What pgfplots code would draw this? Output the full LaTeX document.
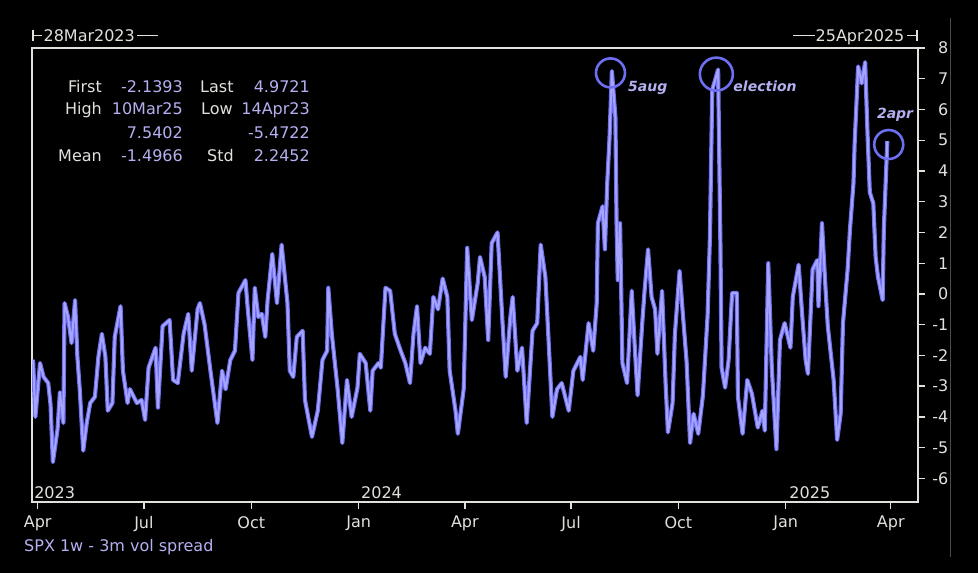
\documentclass[border=0pt]{standalone}
\usepackage{fontspec}
\setmainfont{DejaVu Sans}
\usepackage{pgfplots}
\usepackage{pgfplotstable}
\pgfplotsset{compat=1.18}
\definecolor{traceout}{RGB}{110,110,240}
\definecolor{tracein}{RGB}{165,165,255}
\definecolor{lav}{RGB}{180,176,240}
\definecolor{lbl}{RGB}{225,225,220}
\newcommand{\fs}{\fontsize{16bp}{19bp}\selectfont}
\newcommand{\fa}{\fontsize{14bp}{17bp}\selectfont\bfseries\itshape}

% day index: 0 = 1 Apr 2023
\pgfplotstableread{
d v
-4 -2.14
-2 -4.0
2 -2.25
5 -2.7
9 -2.9
11 -3.6
13 -5.47
17 -4.4
19 -3.2
22 -4.2
23 -0.3
26 -0.75
29 -1.6
32 -0.2
34 -2.05
36 -3.1
39 -5.1
42 -4.2
45 -3.55
49 -3.35
52 -2.05
55 -1.3
58 -2.05
60 -3.8
64 -3.55
66 -1.4
71 -0.4
73 -2.5
77 -3.55
79 -3.1
85 -3.55
89 -3.45
92 -4.1
95 -2.4
101 -1.75
103 -3.7
107 -1.05
113 -0.85
116 -2.8
120 -2.9
125 -1.3
129 -0.65
132 -2.5
137 -0.5
139 -0.3
143 -1.0
148 -2.5
154 -4.2
158 -2.5
161 -3.1
165 -2.15
169 -1.85
172 0.03
178 0.45
180 -0.5
184 -2.15
186 0.2
189 -0.75
192 -0.65
195 -1.4
197 -0.2
201 1.3
205 -0.3
209 1.6
214 -0.3
216 -2.5
219 -2.7
222 -1.4
227 -1.2
229 -3.45
235 -4.65
240 -3.8
244 -2.15
248 -1.85
249 0.2
252 -1.3
257 -3.1
261 -4.85
265 -2.8
269 -4.0
274 -3.05
276 -1.95
281 -2.25
285 -3.8
287 -2.5
292 -2.25
294 -2.4
298 0.2
302 0.1
306 -1.3
311 -1.85
315 -2.25
319 -2.9
322 -1.3
325 -0.4
328 -2.25
332 -1.75
336 -1.95
339 -0.1
343 -0.5
347 0.5
351 -0.1
353 -2.5
358 -3.8
360 -4.55
365 -3.1
368 1.5
372 -0.85
377 0.35
379 1.2
383 0.55
386 -1.5
389 1.65
394 2.0
398 -0.75
401 -2.7
405 -0.75
407 -0.1
411 -2.5
415 -1.75
419 -4.2
424 -1.2
428 -0.95
431 1.6
435 0.55
437 -0.95
441 -4.0
445 -3.1
449 -2.9
455 -3.8
459 -2.5
465 -2.05
467 -2.8
472 -0.95
476 -1.85
479 -0.3
480 2.3
484 2.85
486 1.45
488 3.6
490 5.1
492 7.25
495 5.75
496 2.3
497 0.45
499 2.3
501 -2.25
505 -2.9
509 0.1
512 -2.0
514 -3.3
518 -0.95
520 0.1
523 1.45
526 -0.1
529 -0.5
531 -1.95
535 0.1
538 -2.9
540 -4.5
544 -3.55
546 -1.3
550 0.75
553 -0.75
556 -2.2
559 -4.85
562 -3.9
566 -4.55
570 -3.3
574 -0.7
576 1.85
578 6.65
580 6.9
583 7.3
585 1.55
586 -2.4
589 -3.05
592 -2.15
595 0.03
599 0.03
600 -3.35
604 -4.55
608 -2.8
612 -3.25
617 -4.35
621 -3.8
623 -4.45
626 1.0
629 -2.4
633 -5.05
636 -1.5
640 -0.95
645 -1.75
647 -0.1
652 0.95
655 -0.65
658 -2.15
660 -2.6
664 0.8
668 1.1
669 -0.4
672 2.3
675 0.2
677 -1.05
682 -2.8
685 -4.75
688 -3.9
690 -0.95
694 0.8
696 2.1
699 3.6
700 4.9
703 7.4
706 6.85
709 7.54
711 5.25
713 3.3
716 2.95
718 1.2
720 0.55
724 -0.2
725 2.1
728 4.97
}\spread

\begin{document}
\begin{tikzpicture}[x=1bp,y=1bp]
\useasboundingbox (0,0) rectangle (978,-573);
\fill[black] (0,0) rectangle (978,-573);
\draw[black!70!white, line width=0.8bp] (950,-18) -- (950,-557);
\begin{axis}[
  at={(32bp,-48bp)}, anchor=north west,
  scale only axis, width=886bp, height=454bp,
  xmin=-4.9, xmax=754.3, ymin=-6.77, ymax=8,
  axis line style={lbl, line width=1.3bp},
  tick style={lbl, line width=1.3bp},
  major tick length=7bp, tick align=outside,
  xtick pos=bottom, ytick pos=right, yticklabel pos=right,
  xtick={0,91,183,275,366,457,549,641,731},
  xticklabels={Apr,Jul,Oct,Jan,Apr,Jul,Oct,Jan,Apr},
  ytick={-6,-5,-4,-3,-2,-1,0,1,2,3,4,5,6,7,8},
  yticklabels={-6,-5,-4,-3,-2,-1,0,1,2,3,4,5,6,7,8},
  ticklabel style={font=\fs, text=lbl},
  xticklabel style={anchor=north, inner sep=0pt, yshift=-7bp},
  yticklabel style={anchor=west, inner sep=0pt, text width=18bp, align=right, xshift=5bp},
  clip=true,
]
\addplot[traceout, line width=4.2bp, line join=round] table[x=d,y=v]{\spread};
\addplot[tracein, line width=2bp, line join=round] table[x=d,y=v]{\spread};
\addplot[only marks, mark=o, mark size=14.5bp, traceout, mark options={line width=2.6bp}] coordinates {(490.8,7.19) (729.2,4.86)};
\addplot[only marks, mark=o, mark size=16.5bp, traceout, mark options={line width=2.6bp}] coordinates {(581.5,7.15)};
\node[anchor=base west, inner sep=0, font=\fa, text=lav] at (axis cs:505.8,6.59) {5aug};
\node[anchor=base west, inner sep=0, font=\fa, text=lav] at (axis cs:596,6.59) {election};
\node[anchor=base west, inner sep=0, font=\fa, text=lav] at (axis cs:719,5.72) {2apr};
\node[anchor=base west, inner sep=0, font=\fs, text=lbl] at (axis cs:-3.1,-6.64) {2023};
\node[anchor=base west, inner sep=0, font=\fs, text=lbl] at (axis cs:277,-6.64) {2024};
\node[anchor=base west, inner sep=0, font=\fs, text=lbl] at (axis cs:644,-6.64) {2025};
\end{axis}
% date range markers
\begin{scope}[lbl, line width=1.2bp]
\draw (33,-30) -- (33,-41);
\draw (33,-35.5) -- (42,-35.5);
\node[anchor=base west, inner sep=0, font=\fs, text=lbl] at (43,-41.7) {28Mar2023};
\draw (137,-35.5) -- (158,-35.5);
\draw (793,-35.5) -- (815,-35.5);
\node[anchor=base east, inner sep=0, font=\fs, text=lbl] at (905,-41.7) {25Apr2025};
\draw (907,-35.5) -- (917,-35.5);
\draw (917,-30) -- (917,-41);
\end{scope}
% statistics
\begin{scope}[every node/.style={inner sep=0, font=\fs}]
\node[anchor=base east, text=lbl] at (102,-92.7) {First};
\node[anchor=base east, text=lav] at (183,-92.7) {-2.1393};
\node[anchor=base west, text=lbl] at (200,-92.7) {Last};
\node[anchor=base east, text=lav] at (310,-92.7) {4.9721};
\node[anchor=base east, text=lbl] at (102,-115) {High};
\node[anchor=base east, text=lav] at (183,-115) {10Mar25};
\node[anchor=base west, text=lbl] at (201,-115) {Low};
\node[anchor=base east, text=lav] at (310,-115) {14Apr23};
\node[anchor=base east, text=lav] at (183,-138.3) {7.5402};
\node[anchor=base east, text=lav] at (310,-138.3) {-5.4722};
\node[anchor=base east, text=lbl] at (102,-161.7) {Mean};
\node[anchor=base east, text=lav] at (183,-161.7) {-1.4966};
\node[anchor=base west, text=lbl] at (207,-161.7) {Std};
\node[anchor=base east, text=lav] at (310,-161.7) {2.2452};
\end{scope}
\node[anchor=base west, inner sep=0, font=\fs, text=lav] at (24,-551.7) {SPX 1w - 3m vol spread};
\end{tikzpicture}
\end{document}
